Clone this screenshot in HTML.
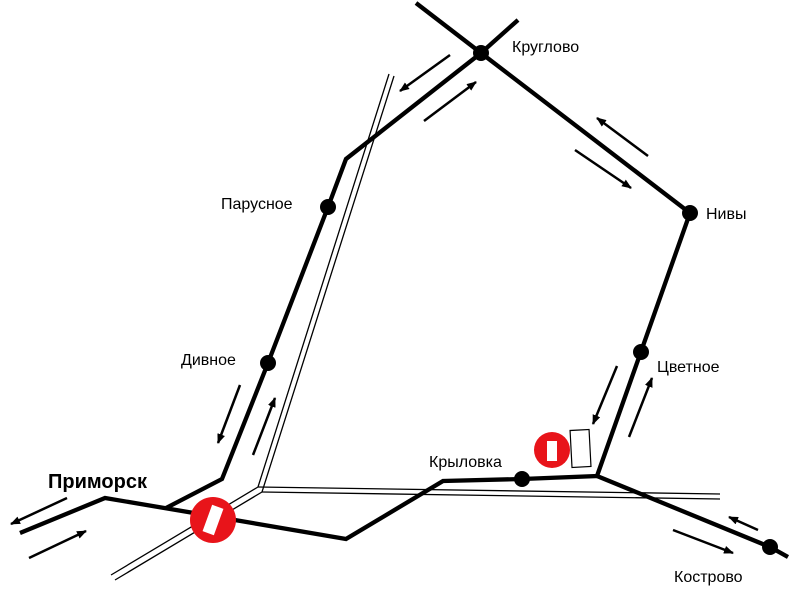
<!DOCTYPE html>
<html><head><meta charset="utf-8"><style>
html,body{margin:0;padding:0;background:#fff}
svg{display:block}
text{font-family:"Liberation Sans",Arial,sans-serif;font-size:16px;fill:#000}
</style></head><body>
<svg width="800" height="598" viewBox="0 0 800 598" xmlns="http://www.w3.org/2000/svg">
<defs>
<marker id="ah" markerWidth="10" markerHeight="8" refX="9" refY="4" orient="auto" markerUnits="userSpaceOnUse">
<path d="M0,0 L10,4 L0,8 Z" fill="#000"/>
</marker>
</defs>
<g fill="none" stroke="#000" stroke-width="1.3">
<polyline points="111,575 258,487 389,74"/>
<polyline points="115,580 262,492 394,76"/>
<polyline points="258,487 720,494"/>
<polyline points="262,492 720,499"/>
</g>
<g fill="none" stroke="#000" stroke-width="4.3" stroke-linejoin="miter">
<polyline points="20,533 105,498 188,512 346,539 443,481 522,479 597,476 690,213 481,53 346,159 328,207 268,363 222,479 166,508"/>
<line x1="416" y1="3" x2="481" y2="53"/>
<line x1="481" y1="53" x2="518" y2="20"/>
<polyline points="597,476 770,547 788,557"/>
</g>
<g stroke="#000" stroke-width="2.5" marker-end="url(#ah)">
<line x1="67" y1="498" x2="11" y2="524"/>
<line x1="29" y1="558" x2="86" y2="531"/>
<line x1="240" y1="385" x2="218" y2="443"/>
<line x1="253" y1="455" x2="275" y2="398"/>
<line x1="450" y1="55" x2="400" y2="91"/>
<line x1="424" y1="121" x2="476" y2="82"/>
<line x1="575" y1="150" x2="631" y2="188"/>
<line x1="648" y1="156" x2="597" y2="118"/>
<line x1="617" y1="366" x2="593" y2="424"/>
<line x1="629" y1="437" x2="652" y2="378"/>
<line x1="758" y1="530" x2="729" y2="517"/>
<line x1="673" y1="530" x2="733" y2="553"/>
</g>
<g fill="#000">
<circle cx="481" cy="53" r="8"/>
<circle cx="690" cy="213" r="8"/>
<circle cx="641" cy="352" r="8"/>
<circle cx="328" cy="207" r="8"/>
<circle cx="268" cy="363" r="8"/>
<circle cx="522" cy="479" r="8"/>
<circle cx="770" cy="547" r="8"/>
</g>
<circle cx="213" cy="520" r="23" fill="#e8141a"/>
<rect x="207" y="506" width="12" height="28" fill="#fff" transform="rotate(20 213 520)"/>
<circle cx="552" cy="450" r="18" fill="#e8141a"/>
<rect x="547" y="441" width="10" height="20" fill="#fff"/>
<rect x="571" y="430" width="19" height="37" fill="#fff" stroke="#000" stroke-width="1.2" transform="rotate(-3 580 448)"/>
<text x="512" y="52">Круглово</text>
<text x="706" y="219">Нивы</text>
<text x="657" y="372">Цветное</text>
<text x="221" y="209">Парусное</text>
<text x="181" y="365">Дивное</text>
<text x="429" y="467">Крыловка</text>
<text x="674" y="582">Кострово</text>
<text x="48" y="488" style="font-size:20px;font-weight:bold">Приморск</text>
</svg>
</body></html>
